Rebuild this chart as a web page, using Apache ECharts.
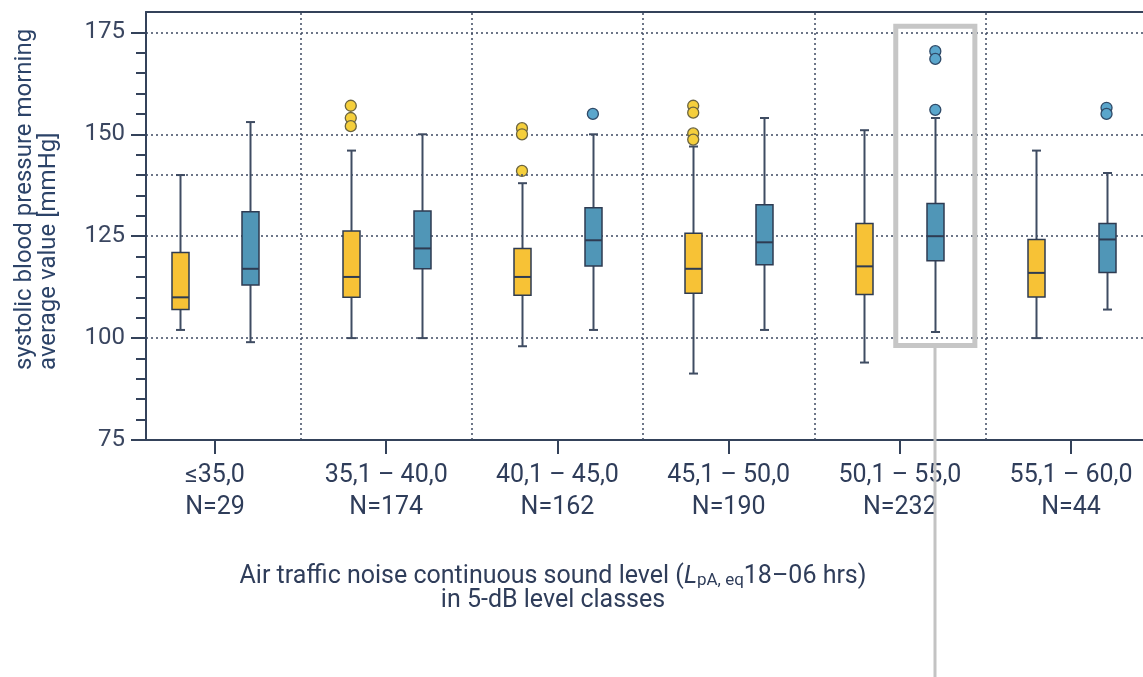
<!DOCTYPE html>
<html>
<head>
<meta charset="utf-8">
<script src="https://cdn.jsdelivr.net/npm/echarts@6/dist/echarts.min.js"></script>
<style>
html,body{margin:0;padding:0;background:#fff;}
#chart{width:1143px;height:677px;}
</style>
</head>
<body>
<div id="chart"></div>
<script>
// ---- data ----
const categories = ['≤35,0', '35,1 – 40,0', '40,1 – 45,0', '45,1 – 50,0', '50,1 – 55,0', '55,1 – 60,0'];
const sampleSizes = [29, 174, 162, 190, 232, 44];
const yTicks = [75, 100, 125, 150, 175];
const referenceLine = 140;
// [lower whisker, Q1, median, Q3, upper whisker]
const yellowBoxes = [
  [102, 107, 110, 121, 140],
  [100, 110, 115, 126.3, 146],
  [98, 110.5, 115, 122, 138],
  [91.3, 111, 117, 125.7, 147],
  [94, 110.7, 117.6, 128.1, 151],
  [100, 110.1, 116, 124.2, 146]
];
const blueBoxes = [
  [99, 113, 117, 131, 153],
  [100, 117, 122, 131.2, 150],
  [102, 117.7, 124, 132, 150],
  [102, 118, 123.5, 132.7, 154],
  [101.5, 119, 125, 133, 154],
  [107, 116.1, 124.2, 128.1, 140.5]
];
const yellowOutliers = [[], [157, 154, 152], [151.5, 150, 141], [157, 155.3, 150.2, 148.7], [], []];
const blueOutliers = [[], [], [155], [], [170.4, 168.5, 156], [156.5, 155]];
const highlightGroup = 4;
const highlightRange = [98.2, 176.5];

// ---- styling / layout ----
const TEXT = '#2f3d5a';
const AXIS = '#34425a';
const GRIDC = '#3e4a62';
const YELLOW = '#f7c236';
const BLUE = '#5096b7';
const OFFSET = 0.207;
const xMin = -0.403, xMax = 5.42;

function boxRender(fill) {
  return function (params, api) {
    const x = api.value(0);
    const lo = api.coord([x, api.value(1)]);
    const q1 = api.coord([x, api.value(2)]);
    const md = api.coord([x, api.value(3)]);
    const q3 = api.coord([x, api.value(4)]);
    const hi = api.coord([x, api.value(5)]);
    const hw = 8.5, cw = 4.5;
    const cx = Math.round(q1[0]) + 0.5;
    const ws = {stroke: '#3f4c62', lineWidth: 2};
    return {
      type: 'group',
      children: [
        {type: 'line', shape: {x1: cx, y1: hi[1], x2: cx, y2: q3[1]}, style: ws},
        {type: 'line', shape: {x1: cx, y1: q1[1], x2: cx, y2: lo[1]}, style: ws},
        {type: 'line', shape: {x1: cx - cw, y1: hi[1], x2: cx + cw, y2: hi[1]}, style: ws},
        {type: 'line', shape: {x1: cx - cw, y1: lo[1], x2: cx + cw, y2: lo[1]}, style: ws},
        {type: 'rect', shape: {x: cx - hw, y: q3[1], width: hw * 2, height: q1[1] - q3[1]},
          style: {fill: fill, stroke: '#2e3b52', lineWidth: 1.5}},
        {type: 'line', shape: {x1: cx - hw, y1: md[1], x2: cx + hw, y2: md[1]},
          style: {stroke: '#2e3b52', lineWidth: 2}}
      ]
    };
  };
}

function outlierData(list, off) {
  const out = [];
  list.forEach((vals, i) => vals.forEach(v => out.push([i + off, v])));
  return out;
}

const dotted = {type: [2, 3], color: GRIDC, width: 1.5};

const chart = echarts.init(document.getElementById('chart'), null, {renderer: 'canvas'});
const option = {
  animation: false,
  backgroundColor: '#ffffff',
  grid: {left: 146, right: 0, top: 12, bottom: 237},
  xAxis: [{
    type: 'value', min: xMin, max: xMax,
    axisLine: {show: true, onZero: false, lineStyle: {color: AXIS, width: 2}},
    axisTick: {show: true, customValues: categories.map((c, i) => i), length: 14, lineStyle: {color: AXIS, width: 2}},
    axisLabel: {
      customValues: categories.map((c, i) => i),
      formatter: v => categories[Math.round(v)] + '\nN=' + sampleSizes[Math.round(v)],
      color: TEXT, fontFamily: 'Roboto', fontSize: 25, lineHeight: 32, margin: 20
    },
    splitLine: {show: false}
  }, {
    type: 'value', position: 'top', min: xMin, max: xMax,
    axisLine: {show: true, onZero: false, lineStyle: {color: AXIS, width: 2}},
    axisTick: {show: false}, axisLabel: {show: false}, splitLine: {show: false}
  }],
  yAxis: {
    type: 'value', min: 75, max: 180, interval: 25,
    axisLine: {show: true, onZero: false, lineStyle: {color: AXIS, width: 2}},
    axisTick: {show: true, customValues: yTicks, length: 15, lineStyle: {color: AXIS, width: 2}},
    minorTick: {show: true, splitNumber: 5, length: 10, lineStyle: {color: AXIS, width: 2}},
    axisLabel: {customValues: yTicks, color: '#3a4660', fontFamily: 'Roboto', fontSize: 24, margin: 21},
    splitLine: {show: true, lineStyle: dotted},
    minorSplitLine: {show: false}
  },
  series: [{
    type: 'custom', name: 'yellow',
    renderItem: boxRender(YELLOW),
    data: yellowBoxes.map((b, i) => [i - OFFSET].concat(b)),
    z: 3,
    markLine: {
      silent: true, symbol: 'none', label: {show: false}, animation: false,
      lineStyle: dotted, emphasis: {disabled: true},
      data: [{yAxis: referenceLine}].concat(categories.slice(1).map((c, i) => ({xAxis: i + 0.5})))
    }
  }, {
    type: 'custom', name: 'blue',
    renderItem: boxRender(BLUE),
    data: blueBoxes.map((b, i) => [i + OFFSET].concat(b)),
    z: 3
  }, {
    type: 'scatter', data: outlierData(yellowOutliers, -OFFSET), symbolSize: 11, z: 4,
    itemStyle: {color: '#f5cf3c', borderColor: '#6b6440', borderWidth: 1.3, opacity: 1}
  }, {
    type: 'scatter', data: outlierData(blueOutliers, OFFSET), symbolSize: 11, z: 4,
    itemStyle: {color: '#5aa6cc', borderColor: '#2f4a68', borderWidth: 1.3, opacity: 1}
  }]
};
chart.setOption(option);

// annotations positioned through the chart's own scales
const hx = highlightGroup + OFFSET;
const pA = chart.convertToPixel({xAxisIndex: 0, yAxisIndex: 0}, [hx - 0.231, highlightRange[1]]);
const pB = chart.convertToPixel({xAxisIndex: 0, yAxisIndex: 0}, [hx + 0.231, highlightRange[0]]);
const lineX = Math.round((pA[0] + pB[0]) / 2);
chart.setOption({
  graphic: [
    {type: 'rect', z: 100, silent: true,
      shape: {x: pA[0], y: pA[1], width: pB[0] - pA[0], height: pB[1] - pA[1]},
      style: {fill: 'none', stroke: '#c6c6c6', lineWidth: 5}},
    {type: 'line', z: 100, silent: true,
      shape: {x1: lineX, y1: pB[1] + 2.5, x2: lineX, y2: 677},
      style: {stroke: '#c3c3c3', lineWidth: 3}},
    {type: 'text', x: 25, y: 370, rotation: Math.PI / 2, silent: true,
      style: {text: 'systolic blood pressure morning', fill: '#2c4368', font: '24px Roboto', align: 'left', verticalAlign: 'middle'}},
    {type: 'text', x: 49, y: 370, rotation: Math.PI / 2, silent: true,
      style: {text: 'average value [mmHg]', fill: '#2c4368', font: '24px Roboto', align: 'left', verticalAlign: 'middle'}},
    {type: 'text', x: 553, y: 577, silent: true,
      style: {
        text: 'Air traffic noise continuous sound level ({i|L}{s|pA, eq}18–06 hrs)',
        fill: TEXT, font: '25px Roboto', align: 'center', verticalAlign: 'middle',
        rich: {
          i: {fontStyle: 'italic', fontSize: 25, fontFamily: 'Roboto', fill: TEXT},
          s: {fontSize: 17, fontFamily: 'Roboto', verticalAlign: 'bottom', fill: TEXT}
        }
      }},
    {type: 'text', x: 553, y: 601, silent: true,
      style: {text: 'in 5-dB level classes', fill: TEXT, font: '25px Roboto', align: 'center', verticalAlign: 'middle'}}
  ]
});
</script>
</body>
</html>
